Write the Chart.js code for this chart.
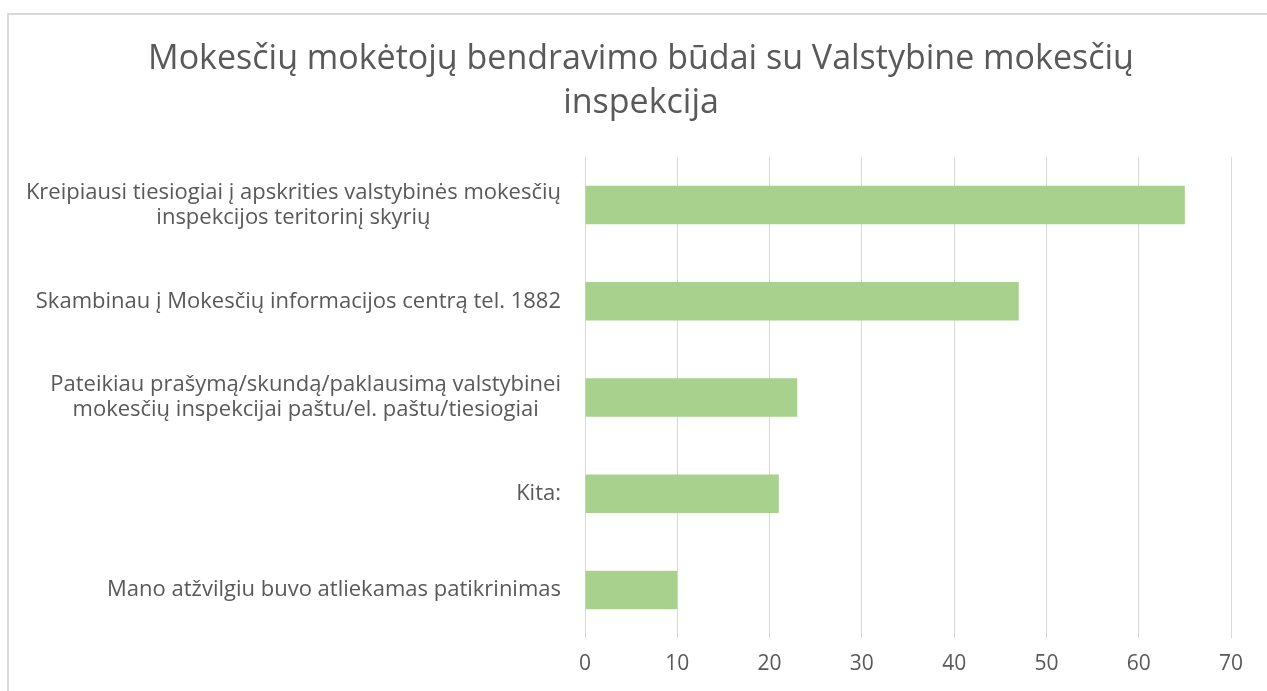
<!DOCTYPE html>
<html>
<head>
<meta charset="utf-8">
<script src="https://cdn.jsdelivr.net/npm/chart.js@4"></script>
<style>
  html, body { margin: 0; padding: 0; background: #fff; overflow: hidden; }
  #frame { position: absolute; left: 7px; top: 13px; width: 1300px; height: 720px; border: 2px solid #d9d9d9; }
  #chart { position: absolute; left: 0; top: 0; }
</style>
</head>
<body>
<div id="frame"></div>
<canvas id="chart" width="1267" height="691"></canvas>
<script>
const chartTitle = ['Mokesčių mokėtojų bendravimo būdai su Valstybine mokesčių', 'inspekcija'];
const categories = [
    ['Kreipiausi tiesiogiai į apskrities valstybinės mokesčių', 'inspekcijos teritorinį skyrių'],
    ['Skambinau į Mokesčių informacijos centrą tel. 1882'],
    ['Pateikiau prašymą/skundą/paklausimą valstybinei', 'mokesčių inspekcijai paštu/el. paštu/tiesiogiai'],
    ['Kita:'],
    ['Mano atžvilgiu buvo atliekamas patikrinimas']
];
const values = [65, 47, 23, 21, 10];
const xMin = 0;
const xMax = 70;
const xStep = 10;

const FONT = '"Open Sans", "DejaVu Sans", sans-serif';
const TEXT_COLOR = '#595959';

// draws the category labels: each block right-aligned, lines centered inside the block
const categoryLabels = {
    id: 'categoryLabels',
    afterDraw(chart) {
        const yScale = chart.scales.y;
        const ctx = chart.ctx;
        const lineH = 25;
        ctx.save();
        ctx.font = '22px ' + FONT;
        ctx.fillStyle = TEXT_COLOR;
        ctx.textAlign = 'center';
        ctx.textBaseline = 'middle';
        const right = chart.chartArea.left - 24;
        yScale.ticks.forEach((tick, i) => {
            const lines = categories[i];
            const w = Math.max(...lines.map(l => ctx.measureText(l).width));
            const cx = right - w / 2;
            const cy = yScale.getPixelForTick(i);
            lines.forEach((l, j) => {
                ctx.fillText(l, cx, cy + (j - (lines.length - 1) / 2) * lineH);
            });
        });
        ctx.restore();
    }
};

new Chart(document.getElementById('chart'), {
    type: 'bar',
    data: {
        labels: categories,
        datasets: [{
            data: values,
            backgroundColor: '#a9d18e',
            borderWidth: 0,
            barPercentage: 0.4,
            categoryPercentage: 1
        }]
    },
    options: {
        indexAxis: 'y',
        responsive: false,
        animation: false,
        layout: { padding: { left: 51, right: 36, top: 0, bottom: 0 } },
        plugins: {
            legend: { display: false },
            tooltip: { enabled: false },
            title: {
                display: true,
                text: chartTitle,
                color: TEXT_COLOR,
                font: { family: FONT, size: 34, weight: 'normal', lineHeight: '44px' },
                padding: { top: 37, bottom: 32 }
            }
        },
        scales: {
            x: {
                min: xMin,
                max: xMax,
                ticks: {
                    stepSize: xStep,
                    color: TEXT_COLOR,
                    font: { family: FONT, size: 21 },
                    padding: 13
                },
                grid: { color: '#d9d9d9', lineWidth: 1, drawTicks: false },
                border: { display: false },
                afterFit(scale) { scale.height = 53; }
            },
            y: {
                ticks: { display: false },
                grid: { display: false },
                border: { display: false },
                afterFit(scale) { scale.width = 534; }
            }
        }
    },
    plugins: [categoryLabels]
});
</script>
</body>
</html>
